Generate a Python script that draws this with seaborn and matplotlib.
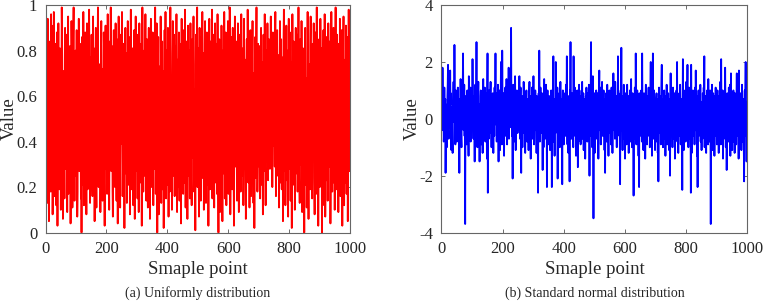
import matplotlib
matplotlib.use('Agg')
import matplotlib.pyplot as plt
import seaborn as sns
import numpy as np
import pandas as pd

# uniform samples, in hundredths
uniform_pct = [
    46, 71, 88, 52, 13, 37, 94, 60, 58, 21, 5, 33, 79, 84, 67, 42, 18, 96, 74, 30, 49, 55, 8, 27, 91,
    63, 97, 40, 16, 24, 70, 83, 45, 39, 12, 61, 88, 76, 3, 50, 57, 92, 34, 68, 19, 26, 81, 73, 44, 10,
    36, 59, 99, 85, 47, 22, 6, 64, 71, 53, 30, 15, 78, 90, 41, 62, 28, 35, 87, 56, 9, 48, 66, 95, 17,
    23, 74, 51, 38, 82, 60, 4, 29, 43, 93, 75, 67, 11, 20, 58, 86, 99, 31, 46, 14, 52, 69, 80, 37, 25,
    65, 89, 42, 7, 18, 56, 77, 34, 94, 61, 27, 49, 83, 72, 39, 15, 58, 0, 44, 86, 68, 21, 33, 97, 54,
    12, 40, 63, 79, 88, 26, 50, 35, 8, 71, 92, 57, 19, 45, 66, 30, 84, 98, 73, 41, 13, 24, 60, 77, 49,
    87, 52, 29, 16, 70, 95, 38, 62, 81, 44, 5, 33, 58, 76, 90, 23, 11, 47, 64, 36, 85, 99, 55, 20, 42,
    68, 31, 74, 57, 9, 26, 83, 93, 48, 39, 61, 14, 72, 50, 37, 88, 79, 22, 3, 45, 66, 91, 28, 54, 80,
    34, 17, 59, 96, 75, 43, 62, 25, 10, 51, 84, 70, 38, 99, 46, 27, 65, 82, 56, 18, 7, 41, 73, 89, 30,
    53, 77, 20, 36, 92, 67, 48, 14, 85, 60, 33, 4, 29, 71, 95, 58, 42, 76, 24, 11, 63, 87, 50, 39, 81,
    97, 45, 16, 28, 69, 55, 83, 37, 2, 40, 74, 90, 61, 26, 52, 79, 13, 35, 68, 93, 47, 21, 57, 86, 31,
    64, 8, 49, 72, 98, 43, 19, 30, 56, 81, 66, 24, 12, 38, 75, 89, 54, 6, 44, 61, 95, 70, 27, 35, 78,
    51, 15, 87, 62, 33, 9, 46, 92, 74, 58, 22, 40, 83, 67, 29, 3, 55, 99, 71, 36, 18, 48, 64, 80, 25,
    42, 73, 96, 59, 31, 14, 68, 85, 47, 26, 11, 53, 77, 90, 39, 60, 23, 6, 44, 82, 94, 65, 37, 20, 56,
    70, 88, 34, 12, 49, 63, 81, 28, 57, 99, 45, 17, 38, 76, 92, 54, 0, 41, 67, 86, 30, 8, 61, 73, 50,
    24, 39, 95, 66, 13, 47, 78, 84, 35, 19, 58, 71, 2, 27, 62, 89, 43, 56, 97, 32, 15, 69, 80, 46, 21,
    63, 90, 52, 7, 36, 74, 41, 18, 85, 99, 57, 29, 44, 68, 10, 33, 79, 93, 60, 25, 48, 87, 72, 16, 38,
    55, 82, 27, 64, 96, 40, 9, 31, 76, 53, 20, 67, 88, 45, 14, 59, 35, 83, 71, 4, 50, 94, 62, 28, 43,
    78, 17, 37, 89, 65, 22, 48, 98, 56, 11, 30, 73, 84, 61, 39, 6, 54, 91, 46, 25, 69, 80, 34, 15, 58,
    92, 41, 70, 23, 12, 66, 85, 49, 33, 77, 95, 57, 18, 28, 63, 42, 1, 74, 87, 52, 36, 60, 99, 20, 45,
    81, 68, 29, 7, 55, 90, 38, 47, 72, 14, 62, 86, 31, 50, 97, 24, 43, 79, 65, 10, 35, 58, 83, 93, 26,
    40, 13, 59, 76, 88, 44, 21, 67, 53, 3, 32, 71, 94, 57, 19, 48, 84, 62, 27, 39, 73, 98, 15, 51, 66,
    30, 87, 45, 11, 60, 78, 92, 36, 22, 54, 69, 83, 17, 41, 96, 63, 28, 0, 49, 75, 85, 34, 9, 57, 72,
    46, 20, 91, 64, 38, 5, 53, 80, 70, 26, 42, 97, 61, 15, 33, 77, 88, 49, 12, 68, 56, 24, 39, 93, 82,
    17, 58, 74, 31, 99, 44, 8, 27, 65, 86, 51, 36, 19, 72, 90, 47, 60, 21, 3, 40, 79, 95, 62, 29, 54,
    84, 71, 37, 14, 48, 66, 92, 55, 23, 9, 43, 78, 87, 32, 61, 18, 50, 96, 73, 39, 25, 57, 81, 67, 12,
    35, 94, 60, 28, 52, 76, 41, 6, 19, 69, 85, 47, 30, 98, 64, 22, 45, 83, 58, 11, 37, 74, 89, 53, 16,
    62, 40, 26, 79, 93, 57, 33, 13, 70, 48, 2, 35, 66, 86, 51, 24, 77, 99, 42, 59, 18, 30, 83, 68, 45,
    55, 29, 82, 71, 15, 38, 64, 90, 46, 21, 59, 75, 34, 8, 50, 87, 62, 27, 43, 96, 73, 36, 12, 56, 80,
    67, 44, 31, 92, 58, 23, 49, 76, 85, 39, 61, 28, 53, 70, 95, 42, 34, 66, 81, 20, 57, 88, 47, 63, 38,
    74, 52, 29, 83, 97, 45, 16, 60, 36, 71, 89, 54, 25, 41, 78, 64, 11, 33, 58, 93, 69, 22, 46, 85, 40,
    19, 62, 77, 50, 5, 37, 86, 98, 56, 27, 44, 73, 12, 31, 68, 91, 48, 23, 59, 80, 35, 7, 65, 94, 52,
    28, 41, 88, 67, 14, 53, 75, 39, 2, 46, 96, 70, 33, 60, 84, 21, 57, 79, 10, 38, 63, 90, 45, 26, 72,
    87, 55, 18, 34, 69, 99, 42, 61, 24, 13, 76, 85, 50, 30, 47, 93, 66, 9, 37, 58, 81, 72, 16, 44, 0,
    62, 78, 90, 35, 21, 53, 68, 11, 43, 86, 97, 57, 28, 6, 49, 74, 64, 32, 19, 82, 95, 40, 55, 71, 26,
    15, 47, 83, 59, 36, 92, 73, 24, 8, 51, 66, 88, 38, 17, 60, 99, 45, 29, 76, 54, 3, 34, 69, 85, 42,
    20, 63, 94, 70, 31, 48, 81, 0, 57, 39, 12, 74, 89, 52, 27, 44, 96, 65, 7, 33, 78, 58, 23, 86, 61,
    49, 14, 36, 92, 75, 55, 29, 68, 84, 41, 4, 26, 59, 97, 71, 37, 18, 63, 80, 46, 90, 22, 53, 67, 10,
    32, 77, 99, 56, 43, 19, 64, 87, 28, 50, 73, 9, 40, 83, 61, 35, 94, 70, 16, 47, 58, 25, 89, 66, 3,
    38, 54, 81, 95, 45, 12, 30, 68, 76, 22, 60, 91, 49, 17, 34, 86, 72, 5, 41, 63, 98, 57, 27, 79, 44,
]

# standard normal samples, in tenths
normal_tenths = [
    2, 9, -4, 18, 6, -1, 3, -8, -5, 11, 0, 4, 7, -19, -3, 5, 1, -10, -6, 8, 12, 19, -2, -7, 3,
    6, -3, 1, 17, 5, 9, -2, -11, 4, 0, -6, -12, 3, 8, 13, -1, 2, 26, 7, -4, -9, 1, 10, 5, -3,
    -8, 2, 4, 11, -1, 6, -5, -3, -19, 0, 7, 3, 14, 1, -7, -10, 5, 2, -2, 9, 23, 6, -4, 0, 12,
    -6, 3, -37, 1, 8, -2, 4, -9, -5, 10, 2, 6, -1, -13, 15, 7, 0, -4, 5, 11, -8, -3, 2, 9, 4,
    -2, 21, 5, 0, -7, 8, 3, -1, -15, 6, 12, 2, -4, 9, 27, 1, -6, -10, 4, 7, 13, -3, 0, 5, -15,
    3, -5, 8, 10, 1, -9, -3, 6, 2, -12, 4, 14, 0, -2, 7, -6, 11, 3, -8, 5, 1, -4, 9, -14, 6,
    23, -26, 4, 2, -7, 10, 0, 5, -3, 8, 13, -5, 1, -10, 6, 3, -1, 9, 2, -12, 7, 4, -6, 11, -2,
    5, 23, -1, 7, 3, -8, 9, 0, -4, 12, 6, -15, 2, -3, 10, 4, -11, 1, 8, 20, -5, 3, -9, 24, 6,
    -4, 1, 9, 5, -13, 2, 7, -2, 11, 0, -6, 4, 14, 3, -9, 6, -1, 8, 2, 18, -7, 5, 10, -3, 1,
    7, -2, 32, 4, 9, -6, 1, -21, 3, 12, 5, -1, -8, 6, 2, 15, 0, -11, 8, 4, -3, 10, 6, -5, 1,
    3, 9, -4, 6, 15, 1, -7, 4, 11, -2, -19, 5, 0, 8, -10, 2, 7, -3, 13, 6, -5, 1, 9, -12, 4,
    -1, 6, 10, 2, -8, 5, -3, 7, 0, -11, 4, 9, 13, -6, 1, 3, -14, 8, 5, -2, 11, 0, -7, 6, 2,
    15, 4, -9, 1, 7, -4, 10, 3, -2, 6, -12, 8, 0, 5, -6, -26, 2, 9, -3, 24, 4, -8, 1, 11, -1,
    6, 2, -5, 9, 3, -18, 7, 1, -10, 4, 14, -2, 5, -7, 8, 0, 12, -4, 3, -24, 6, 10, -1, -9, 5,
    2, -6, 8, 4, -11, 1, 7, -3, 10, 5, -24, 3, 9, -1, 6, 22, -8, 0, 4, -13, 7, 2, -5, 20, 1,
    8, -2, 5, 11, -21, 3, 6, -7, 0, 9, 4, -10, 2, 13, -4, 7, 1, -8, 5, -23, 6, 10, -3, 2, -9,
    4, 7, -1, 9, -6, 2, 12, -3, 5, 22, 0, -9, 6, 3, -12, 8, 1, -4, -22, 10, 5, 27, -2, 7, -7,
    3, 9, -5, 1, 6, -10, 22, 4, -2, 8, 11, -6, 0, 5, -13, 7, 2, -1, 10, 4, -17, 6, -8, 3, 12,
    -3, 5, 1, 8, -9, 4, 0, 10, -5, 13, 2, -7, 6, 9, -11, 3, -1, 7, 5, -14, 1, 8, -4, 11, 2,
    6, -8, 3, 9, 0, -5, 12, 4, -20, 7, -2, 5, 10, 27, -6, 1, 8, -10, 3, 15, 6, -35, 2, -4, 9,
    -12, 4, 7, 1, -3, 10, 5, -7, 2, 9, -1, 6, -14, 3, 8, 17, -4, 0, 11, 5, -9, 2, 6, -2, 13,
    1, -6, 8, 3, 10, -2, 5, -11, 7, -19, 4, 0, 9, 6, -8, 2, 12, -3, 5, 1, -13, 7, -1, 10, 4,
    -5, 8, 2, -9, 6, 11, -1, 3, -12, 7, 0, 16, 5, -4, 9, 2, -7, 13, 4, -2, 8, 1, -10, 6, 3,
    -6, 22, 4, 9, -3, 1, 7, -8, -23, 5, 10, 2, 25, -4, 6, 0, -11, 8, 3, -1, 12, -7, 5, 1, -14,
    4, 9, -2, 6, -9, 1, 12, 5, -6, 3, 8, -12, 0, 7, -3, 10, 2, -8, 5, 14, -1, 6, -10, 3, 9,
    -4, 2, -27, 8, 5, -7, 11, 1, -2, 23, 6, -9, 3, 0, 10, -5, 7, 4, -13, 2, -24, 9, 1, -6, 5,
    8, -3, 10, 2, -8, 23, 4, -1, 6, -11, 3, 9, -5, 7, 1, -14, 5, 12, -2, 4, 0, -9, 8, 3, -6,
    5, 11, -4, 2, 7, -10, 1, 9, 20, -6, 3, 6, -13, 0, 8, 23, -2, 4, -7, 10, 5, -1, -11, 7, 2,
    -3, 6, 9, -8, 1, 4, -12, 7, -22, 2, 11, -5, 3, 8, -1, 0, -9, 6, 13, 19, -4, 5, 2, -10, 7,
    1, -7, 10, 4, -2, 8, -13, 3, 6, -5, 12, 0, -9, 7, 2, 9, -4, 5, -11, 1, 7, -20, 3, 16, -6,
    4, 8, -3, 1, -10, 6, 11, -1, 5, -7, 2, 9, -14, 3, 7, 0, -5, 10, 4, 20, -8, 2, 6, -12, 5,
    -2, 9, 3, -6, 12, 1, -9, 5, 7, -3, 0, -25, 4, 21, -1, 8, -11, 2, 6, -4, 10, 3, -8, 5, 13,
    -5, 2, 8, 19, -1, 6, -10, 3, 11, 0, -7, 4, 9, -3, -26, 19, 1, -12, 7, 5, -2, 10, -6, 3, 8,
    2, -9, 6, 11, -4, 17, 3, -1, 8, -13, 5, -24, 7, 1, 10, -6, 4, 9, -3, 0, 12, -8, 2, 6, -11,
    5, 1, -7, 9, 3, -4, 11, 6, 22, -10, 2, 8, -2, 0, -12, 7, 4, 10, -5, 3, -9, 14, 1, -3, 6,
    -8, 4, 10, 2, -37, 7, 1, -5, 12, 3, -11, 6, 9, -2, 0, 8, -13, 4, 5, -6, 11, 2, -1, 7, -9,
    3, 10, -4, 6, 1, -12, 8, 2, -6, 5, 13, -1, -9, 21, 4, 7, -3, 0, 10, -14, 6, 2, -7, 9, 1,
    -4, 18, 5, -10, 2, 7, -18, 3, 9, -2, 6, 0, -8, 11, 4, -5, 1, 12, -13, 3, 16, -6, 8, 2, -11,
    7, -3, 4, 10, -8, 1, 5, -12, 9, 2, -1, 6, -9, 3, 16, -6, 11, 0, -4, 8, -14, 17, 2, -7, 5,
    1, 9, -5, 6, -11, 3, 12, -2, 4, -8, 7, 0, -13, -22, 5, 10, -3, 8, 20, -6, 2, -15, 6, -10, 1,
]

x_ticks = [0, 200, 400, 600, 800, 1000]
uniform_yticks = [0, 0.2, 0.4, 0.6, 0.8, 1]
uniform_ylabels = ['0', '0.2', '0.4', '0.6', '0.8', '1']
normal_yticks = [-4, -2, 0, 2, 4]
captions = ['(a) Uniformly distribution', '(b) Standard normal distribution']

sns.set_style('ticks')
plt.rcParams['font.family'] = ['Liberation Serif', 'DejaVu Serif']

df = pd.DataFrame({
    'sample': np.arange(1, len(uniform_pct) + 1),
    'uniform': np.array(uniform_pct) / 100.0,
    'normal': np.array(normal_tenths) / 10.0,
})

fig = plt.figure(figsize=(7.64, 3.02), dpi=100)
ax1 = fig.add_axes([0.0597, 0.230, 0.3983, 0.753])
ax2 = fig.add_axes([0.5776, 0.230, 0.4008, 0.753])

sns.lineplot(data=df, x='sample', y='uniform', ax=ax1, color='#ff0000',
             linewidth=1.3, estimator=None)
sns.lineplot(data=df, x='sample', y='normal', ax=ax2, color='#0000ff',
             linewidth=1.3, estimator=None)

ax1.set_ylim(0, 1)
ax1.set_yticks(uniform_yticks)
ax1.set_yticklabels(uniform_ylabels)
ax2.set_ylim(-4, 4)
ax2.set_yticks(normal_yticks)
ax2.set_yticklabels([str(v) for v in normal_yticks])

for ax in (ax1, ax2):
    ax.set_xlim(0, 1000)
    ax.set_xticks(x_ticks)
    ax.set_xlabel('Smaple point', fontsize=13.5)
    ax.set_ylabel('Value', fontsize=13.5)
    ax.tick_params(direction='in', length=3, width=0.6, color='#555555',
                   labelsize=12, pad=6, top=True, right=True)
    for sp in ax.spines.values():
        sp.set_visible(True)
        sp.set_color('#666666')
        sp.set_linewidth(0.8)
    ax.xaxis.set_label_coords(0.5, -0.125)

ax1.yaxis.set_label_coords(-0.092, 0.5)
ax2.yaxis.set_label_coords(-0.067, 0.5)

fig.text(0.0597 + 0.3983 / 2, 0.03, captions[0], ha='center', va='center', fontsize=10)
fig.text(0.5776 + 0.4008 / 2, 0.03, captions[1], ha='center', va='center', fontsize=10)

plt.savefig('out.png', dpi=100, facecolor='white')
plt.close(fig)
